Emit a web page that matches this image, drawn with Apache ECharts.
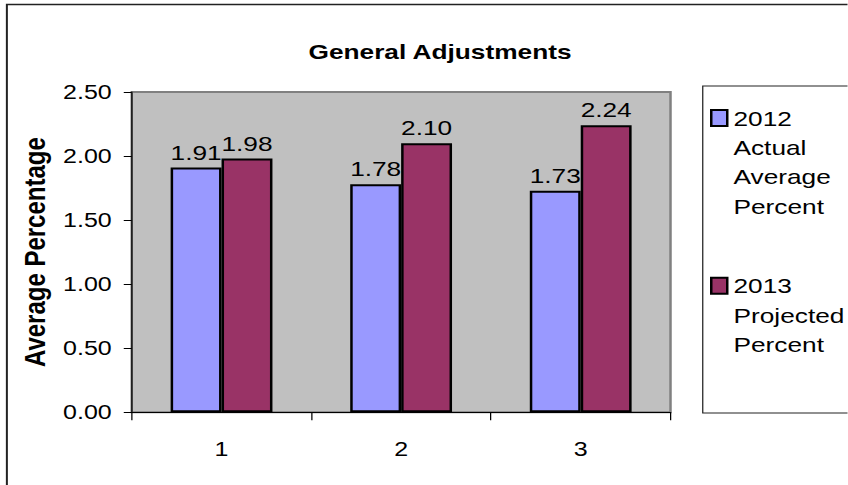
<!DOCTYPE html>
<html>
<head>
<meta charset="utf-8">
<title>General Adjustments</title>
<script src="https://cdn.jsdelivr.net/npm/echarts@6/dist/echarts.min.js"></script>
<style>
  html, body { margin: 0; padding: 0; background: #ffffff; overflow: hidden; }
  /* the chart is laid out narrow and widened, giving the broad lettering of the sheet export */
  #chart { width: 678.4px; height: 485px; transform: scaleX(1.25); transform-origin: 0 0; }
</style>
</head>
<body>
<div id="chart"></div>
<script>
// categories and values
var categories = ['1', '2', '3'];
var actual2012 = [1.91, 1.78, 1.73];
var projected2013 = [1.98, 2.10, 2.24];
var seriesNames = ['2012\nActual\nAverage\nPercent', '2013\nProjected\nPercent'];
var yTicks = { min: 0, max: 2.5, interval: 0.5 };

var FONT = '"Liberation Sans", Arial, Helvetica, sans-serif';

var chart = echarts.init(document.getElementById('chart'), null, { renderer: 'svg' });

function barLabel() {
  return {
    show: true,
    position: 'top',
    distance: 5,
    color: '#000',
    fontFamily: FONT,
    fontSize: 21,
    formatter: function (p) { return p.value.toFixed(2); }
  };
}

// legend icons: the square sits at the first text line of each multi-line entry
var LEGEND_LH = 29.5;
var LEGEND_H = 104.5;

chart.setOption({
  animation: false,
  backgroundColor: '#ffffff',
  title: {
    text: 'General Adjustments',
    left: 347,
    top: 36,
    textAlign: 'center',
    textStyle: { fontFamily: FONT, fontSize: 21, fontWeight: 'bold', color: '#000' }
  },
  graphic: [
    {
      type: 'rect', silent: true,
      shape: { x: 5.5, y: 4.5, width: 2000, height: 2000 },
      style: { fill: 'none', stroke: '#222', lineWidth: 1.6 }
    },
    {
      type: 'rect', silent: true,
      shape: { x: 562.2, y: 86, width: 400, height: 327 },
      style: { fill: '#fff', stroke: '#222', lineWidth: 1 }
    }
  ],
  legend: {
    orient: 'vertical',
    left: 568,
    top: 103.25,
    padding: 0,
    itemGap: 40.7,
    itemWidth: 12.8,
    itemHeight: LEGEND_H,
    selectedMode: false,
    itemStyle: { borderColor: '#000', borderWidth: 2 },
    textStyle: { fontFamily: FONT, fontSize: 21, lineHeight: LEGEND_LH, color: '#000' },
    data: [
      { name: seriesNames[0], icon: 'path://M0,0h12.8v16h-12.8zM0,104.5' },
      { name: seriesNames[1], icon: 'path://M0,0M0,14.75h12.8v16h-12.8zM0,104.5' }
    ]
  },
  grid: {
    left: 105.4,
    right: 141.6,
    top: 92,
    bottom: 72.7,
    show: true,
    backgroundColor: '#C0C0C0',
    borderColor: '#808080',
    borderWidth: 2
  },
  xAxis: {
    type: 'category',
    data: categories,
    axisLine: { lineStyle: { color: '#000', width: 1 } },
    axisTick: { show: true, length: 8, lineStyle: { color: '#000' } },
    axisLabel: { color: '#000', fontFamily: FONT, fontSize: 20, margin: 27 },
    splitLine: { show: false }
  },
  yAxis: {
    type: 'value',
    min: yTicks.min,
    max: yTicks.max,
    interval: yTicks.interval,
    name: 'Average Percentage',
    nameLocation: 'middle',
    nameRotate: 90,
    nameGap: 58,
    nameTextStyle: { fontFamily: FONT, fontSize: 24, fontWeight: 'bold', color: '#000' },
    axisLine: { show: true, lineStyle: { color: '#000', width: 1 } },
    axisTick: { show: true, length: 6.4, lineStyle: { color: '#000' } },
    axisLabel: {
      color: '#000', fontFamily: FONT, fontSize: 20, margin: 16,
      formatter: function (v) { return v.toFixed(2); }
    },
    splitLine: { show: false }
  },
  series: [
    {
      name: seriesNames[0],
      type: 'bar',
      data: actual2012,
      barGap: '0%',
      barCategoryGap: '43.3%',
      itemStyle: { color: '#9999FF', borderColor: '#000', borderWidth: 2 },
      label: barLabel()
    },
    {
      name: seriesNames[1],
      type: 'bar',
      data: projected2013,
      itemStyle: { color: '#993366', borderColor: '#000', borderWidth: 2 },
      label: barLabel()
    }
  ]
});
</script>
</body>
</html>
